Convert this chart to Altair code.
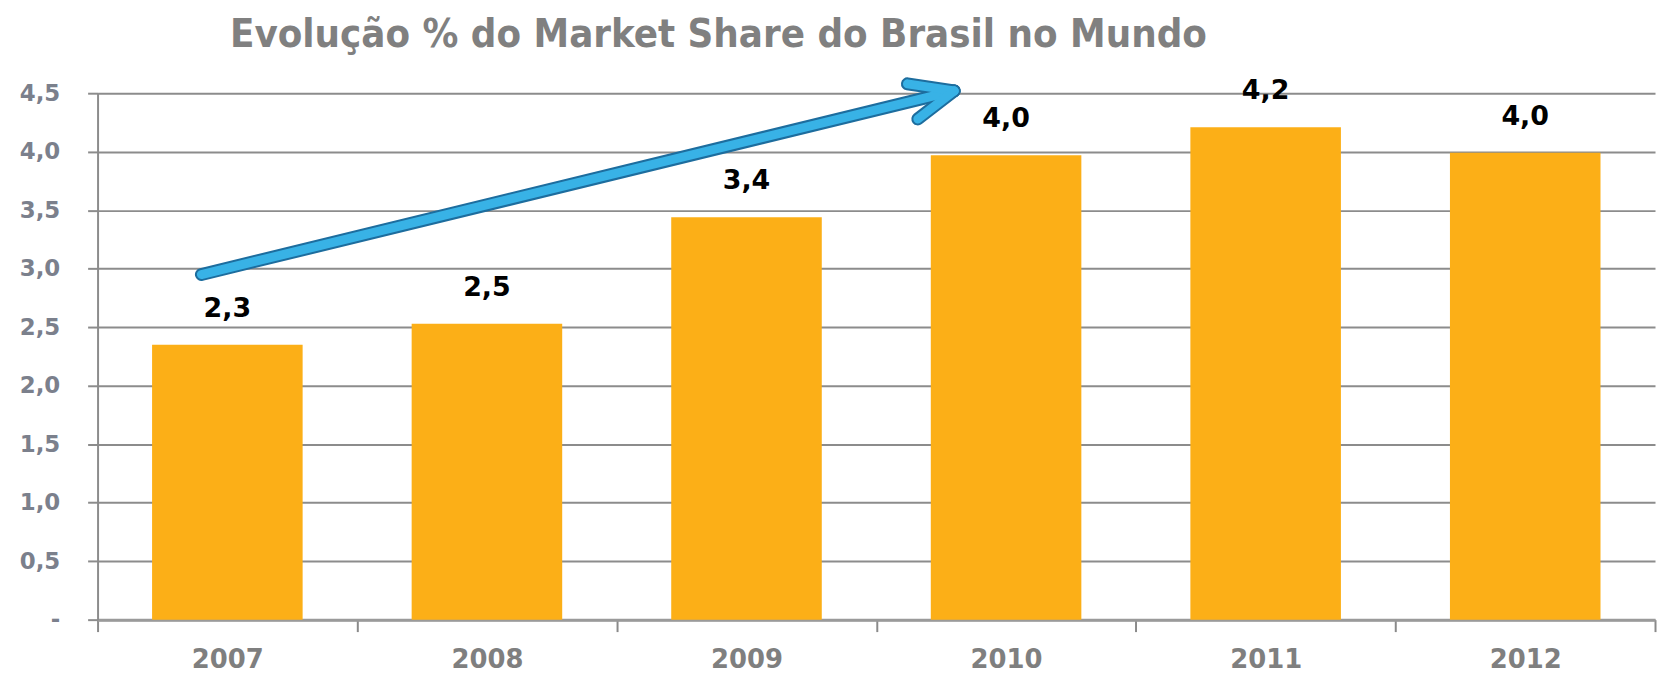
import altair as alt
import pandas as pd

years = ["2007", "2008", "2009", "2010", "2011", "2012"]
shares = [2.35, 2.53, 3.44, 3.97, 4.21, 3.99]
labels = ["2,3", "2,5", "3,4", "4,0", "4,2", "4,0"]
y_ticks = [0, 0.5, 1.0, 1.5, 2.0, 2.5, 3.0, 3.5, 4.0, 4.5]
title_text = "Evolução % do Market Share do Brasil no Mundo"

# trend arrow (x in category-position units 0..6, y in share units): shaft + two head arms
arrow_x = [0.40, 3.12, 3.16]
arrow_y = [2.95, 4.58, 4.28]
arrow_x2 = [3.30, 3.30, 3.30]
arrow_y2 = [4.52, 4.52, 4.52]

df = pd.DataFrame({"year": years, "share": shares, "label": labels})
arrow = pd.DataFrame({"x": arrow_x, "y": arrow_y, "x2": arrow_x2, "y2": arrow_y2})

xscale = alt.Scale(paddingInner=0, paddingOuter=0)
yscale = alt.Scale(domain=[0, 4.5], nice=False, zero=True)

x_axis = alt.Axis(orient="bottom", tickBand="extent", tickSize=12, tickColor="#8a8a8a",
                  tickWidth=2, domainColor="#9a9a9a", domainWidth=3, labelAngle=0,
                  labelFont="DejaVu Sans", labelFontWeight="bold",
                  labelFontSize=26, labelColor="#7f7f7f", labelPadding=15,
                  grid=False)

bars = alt.Chart(df).mark_bar(color="#FCAF17", width=alt.RelativeBandSize(0.58)).encode(
    x=alt.X("year:N", scale=xscale, sort=years, title=None, axis=x_axis),
    y=alt.Y("share:Q", scale=yscale, title=None,
            axis=alt.Axis(values=y_ticks, grid=True, gridColor="#8c8c8c", gridWidth=2,
                          tickSize=10, tickColor="#8c8c8c", tickWidth=2,
                          domainColor="#8c8c8c", domainWidth=2,
                          labelExpr="datum.value == 0 ? '-' : replace(format(datum.value, '.1f'), '.', ',')",
                          labelFont="DejaVu Sans", labelFontWeight="bold", labelFontSize=23,
                          labelColor="#7b808c", labelPadding=28)),
)

text = alt.Chart(df).mark_text(font="DejaVu Sans", fontWeight="bold", fontSize=27,
                               color="#000000", baseline="bottom", dy=-22).encode(
    x=alt.X("year:N", scale=xscale, sort=years, title=None, axis=x_axis),
    y=alt.Y("share:Q", scale=yscale),
    text="label:N",
)

base = alt.layer(bars, text)

ax = alt.X("x:Q", scale=alt.Scale(domain=[0, 6], nice=False), axis=None)
arrow_outline = alt.Chart(arrow).mark_rule(color="#1d6d9e", strokeWidth=13, strokeCap="round").encode(
    x=ax, x2="x2:Q", y=alt.Y("y:Q", scale=yscale), y2="y2:Q")
arrow_fill = alt.Chart(arrow).mark_rule(color="#38b2e6", strokeWidth=9, strokeCap="round").encode(
    x=ax, x2="x2:Q", y=alt.Y("y:Q", scale=yscale), y2="y2:Q")

chart = alt.layer(base, arrow_outline, arrow_fill).resolve_scale(x="independent").properties(
    width=1565, height=529,
    autosize=alt.AutoSizeParams(type="none"),
    padding={"left": 90, "top": 84, "right": 2, "bottom": 52},
    title=alt.TitleParams(title_text, anchor="start", frame="group", dx=133, offset=23,
                          font="DejaVu Sans Condensed", fontWeight="bold", fontSize=40,
                          color="#808080"),
).configure_view(stroke=None)

chart.save("out.html", embed_options={"renderer": "svg", "actions": False})
